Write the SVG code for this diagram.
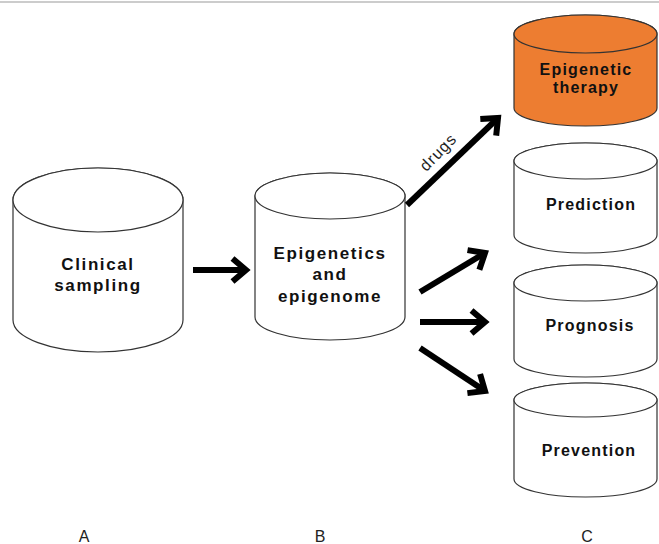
<svg xmlns="http://www.w3.org/2000/svg" width="659" height="544" viewBox="0 0 659 544">
<style>
.cyl{fill:#fff;stroke:#333;stroke-width:1.2}
.org{fill:#ED7D31}
.t1{font-family:"Liberation Sans",Arial,sans-serif;font-weight:bold;font-size:17px;letter-spacing:1.6px;text-anchor:middle;fill:#111}
.t2{font-family:"Liberation Sans",Arial,sans-serif;font-weight:bold;font-size:16px;letter-spacing:1.2px;text-anchor:middle;fill:#111}
.lab{font-family:"Liberation Sans",Arial,sans-serif;font-size:16px;text-anchor:middle;fill:#222}
.arr{stroke:#000;stroke-width:6;fill:none;marker-end:url(#ah)}
</style>
<defs>
<marker id="ah" viewBox="0 0 20 20" refX="17" refY="10" markerWidth="20" markerHeight="20" markerUnits="userSpaceOnUse" orient="auto" overflow="visible">
<path d="M3.5,-1.5 L17,10 L3.5,21.5" fill="none" stroke="#000" stroke-width="6" stroke-linejoin="miter"/>
</marker>
</defs>
<rect width="659" height="544" fill="#fff"/>
<line x1="0" y1="2" x2="659" y2="2" stroke="#bbb" stroke-width="1.5"/>

<g id="nodeA">
<path class="cyl" d="M13,200 A85,32 0 0 1 183,200 L183,320 A85,32 0 0 1 13,320 Z"/>
<ellipse class="cyl" cx="98" cy="200" rx="85" ry="32"/>
<text class="t1" x="98" y="270">Clinical</text>
<text class="t1" x="98" y="291">sampling</text>
</g>

<g id="nodeB">
<path class="cyl" d="M255,196 A75,23 0 0 1 405,196 L405,317 A75,23 0 0 1 255,317 Z"/>
<ellipse class="cyl" cx="330" cy="196" rx="75" ry="23"/>
<text class="t1" x="330" y="259">Epigenetics</text>
<text class="t1" x="330" y="280">and</text>
<text class="t1" x="330" y="302">epigenome</text>
</g>

<g id="nodeTherapy">
<path class="cyl org" d="M514,34 A71.5,19 0 0 1 657,34 L657,108 A71.5,18 0 0 1 514,108 Z"/>
<ellipse class="cyl org" cx="585.5" cy="34" rx="71.5" ry="19"/>
<text class="t2" x="586" y="75">Epigenetic</text>
<text class="t2" x="586" y="93">therapy</text>
</g>

<g id="nodePrediction">
<path class="cyl" d="M514,161 A71.5,18 0 0 1 657,161 L657,235 A71.5,18 0 0 1 514,235 Z"/>
<ellipse class="cyl" cx="585.5" cy="161" rx="71.5" ry="18"/>
<text class="t2" x="591" y="210">Prediction</text>
</g>

<g id="nodePrognosis">
<path class="cyl" d="M514,283 A71.5,18 0 0 1 657,283 L657,359 A71.5,18 0 0 1 514,359 Z"/>
<ellipse class="cyl" cx="585.5" cy="283" rx="71.5" ry="18"/>
<text class="t2" x="590" y="331">Prognosis</text>
</g>

<g id="nodePrevention">
<path class="cyl" d="M514,400 A71.5,17 0 0 1 657,400 L657,479 A71.5,18 0 0 1 514,479 Z"/>
<ellipse class="cyl" cx="585.5" cy="400" rx="71.5" ry="17"/>
<text class="t2" x="589" y="456">Prevention</text>
</g>

<g id="connectors">
<line class="arr" x1="193" y1="270" x2="246" y2="270"/>
<line class="arr" x1="407" y1="205" x2="498" y2="118"/>
<line class="arr" x1="420" y1="292" x2="485" y2="253"/>
<line class="arr" x1="420" y1="322" x2="485" y2="322"/>
<line class="arr" x1="420" y1="348" x2="485" y2="391"/>
<text class="lab" font-size="18" letter-spacing="1" transform="translate(442,156) rotate(-46)" x="0" y="0">drugs</text>
</g>

<g id="labels">
<text class="lab" x="84" y="542">A</text>
<text class="lab" x="320" y="542">B</text>
<text class="lab" x="587" y="542">C</text>
</g>
</svg>
